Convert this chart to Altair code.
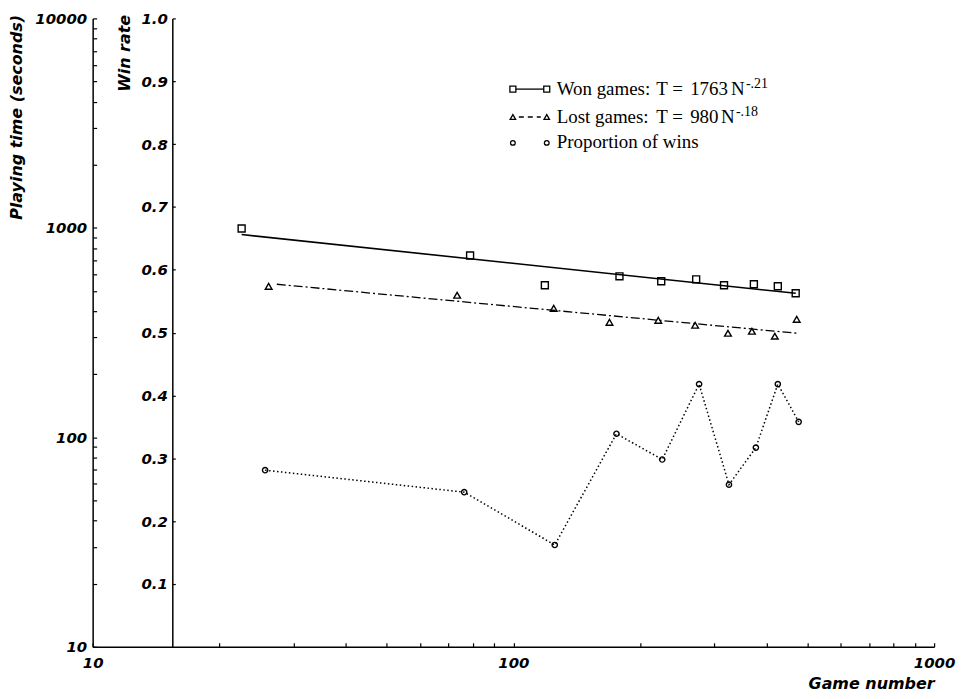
import altair as alt
import pandas as pd

# ---------------- data ----------------
# Won games: game number, playing time (s)
won_n = [22.6, 78.9, 118.8, 178.7, 224.6, 271.9, 316.7, 372.9, 425.1, 468.8]
won_t = [993, 738, 532, 587, 556, 568, 532, 538, 526, 487]
# fitted power law T = 1763 N^-.21 (end points)
won_fit_n = [22.6, 468.8]
won_fit_t = [929, 487]

# Lost games
lost_n = [26.2, 73.5, 124.7, 169.2, 221.0, 270.4, 323.6, 368.9, 418.2, 471.4]
lost_t = [526, 477, 413, 354, 362, 343, 314, 321, 304, 366]
# fitted power law T = 980 N^-.18
lost_fit_n = [27.4, 471.4]
lost_fit_t = [538, 314]

# Proportion of wins (win rate axis)
prop_n = [25.7, 76.4, 125.4, 175.8, 225.8, 276.3, 325.4, 377.0, 425.1, 476.5]
prop_w = [0.281, 0.246, 0.162, 0.339, 0.298, 0.418, 0.258, 0.317, 0.418, 0.358]

# axis ticks
x_ticks = [10, 20, 30, 40, 50, 60, 70, 80, 90,
           100, 200, 300, 400, 500, 600, 700, 800, 900, 1000]
x_labels = [10, 100, 1000]
time_ticks = [10, 20, 30, 40, 50, 60, 70, 80, 90,
              100, 200, 300, 400, 500, 600, 700, 800, 900,
              1000, 2000, 3000, 4000, 5000, 6000, 7000, 8000, 9000, 10000]
time_labels = [10, 100, 1000, 10000]
win_ticks = [0.1, 0.2, 0.3, 0.4, 0.5, 0.6, 0.7, 0.8, 0.9, 1.0]

# ---------------- layout ----------------
W, H = 845, 631
FONT = "DejaVu Sans"
SERIF = "Liberation Serif"

won_df = pd.DataFrame({"n": won_n, "t": won_t})
won_fit_df = pd.DataFrame({"n": won_fit_n, "t": won_fit_t})
lost_df = pd.DataFrame({"n": lost_n, "t": lost_t})
lost_fit_df = pd.DataFrame({"n": lost_fit_n, "t": lost_fit_t})
prop_df = pd.DataFrame({"n": prop_n, "w": prop_w})


def label_expr(vals):
    return "indexof([" + ",".join(str(v) for v in vals) + "], datum.value) >= 0 ? format(datum.value, 'd') : ''"


x_enc = alt.X(
    "n:Q",
    scale=alt.Scale(type="log", domain=[10, 1000], nice=False),
    axis=alt.Axis(
        orient="top", offset=-H, values=x_ticks, tickSize=4,
        labelPadding=-13, labelBaseline="top", labelAlign="center",
        labelExpr=label_expr(x_labels), labelFlush=False, labelOverlap=False,
        title="Game number", titleX=W, titleY=37, titleAlign="right",
        titleBaseline="middle", titleAngle=0, grid=False,
    ),
)

y_time = alt.Y(
    "t:Q",
    scale=alt.Scale(type="log", domain=[10, 10000], nice=False),
    axis=alt.Axis(
        orient="right", offset=-W, values=time_ticks, tickSize=4,
        labelPadding=-10, labelAlign="right", labelBaseline="middle",
        labelExpr=label_expr(time_labels), labelFlush=False, labelOverlap=False,
        title="Playing time (seconds)", titleAngle=270, titleX=-76, titleY=-4,
        titleAlign="right", titleBaseline="middle", grid=False,
    ),
)

y_win = alt.Y(
    "w:Q",
    scale=alt.Scale(domain=[0, 1], nice=False),
    axis=alt.Axis(
        orient="right", offset=-(W - 80), values=win_ticks, tickSize=3,
        labelPadding=-8, labelAlign="right", labelBaseline="middle",
        format=".1f", labelFlush=False, labelOverlap=False,
        title="Win rate", titleAngle=270, titleX=-48, titleY=-4,
        titleAlign="right", titleBaseline="middle", grid=False,
    ),
)

won_pts = alt.Chart(won_df).mark_point(
    shape="square", size=49, filled=False, color="black", strokeWidth=1.4, opacity=1
).encode(x=x_enc, y=y_time)
won_fit = alt.Chart(won_fit_df).mark_line(color="black", strokeWidth=1.6).encode(x=x_enc, y=y_time)
lost_pts = alt.Chart(lost_df).mark_point(
    shape="triangle-up", size=45, filled=False, color="black", strokeWidth=1.4, opacity=1
).encode(x=x_enc, y=y_time)
lost_fit = alt.Chart(lost_fit_df).mark_line(
    color="black", strokeWidth=1.3, strokeDash=[9, 3, 2, 3]
).encode(x=x_enc, y=y_time)

time_layer = alt.layer(won_fit, won_pts, lost_fit, lost_pts)

prop_line = alt.Chart(prop_df).mark_line(
    color="black", strokeWidth=1.5, strokeDash=[1.5, 2.5]
).encode(x=x_enc, y=y_win)
prop_pts = alt.Chart(prop_df).mark_point(
    shape="circle", size=28, filled=False, color="black", strokeWidth=1.4, opacity=1
).encode(x=x_enc, y=y_win)
prop_layer = alt.layer(prop_line, prop_pts)

# ---------------- legend (pixel layout) ----------------
one = pd.DataFrame({"a": [0]})


def sym(shape, x, y, size):
    return alt.Chart(one).mark_point(
        shape=shape, size=size, filled=False, color="black", strokeWidth=1.3, opacity=1
    ).encode(x=alt.value(x), y=alt.value(y))


def rule(x1, x2, y, dash=None):
    kw = {"color": "black", "strokeWidth": 1.3}
    if dash:
        kw["strokeDash"] = dash
    return alt.Chart(one).mark_rule(**kw).encode(x=alt.value(x1), x2=alt.value(x2), y=alt.value(y))


def txt(s, x, y, size=19):
    return alt.Chart(one).mark_text(
        align="left", baseline="alphabetic", font=SERIF, fontSize=size, color="black"
    ).encode(x=alt.value(x), y=alt.value(y), text=alt.value(s))


LX1, LX2, TX = 422, 456, 466
R1, R2, R3 = 71, 99, 125
B1, B2, B3 = 77, 105, 130

legend = [
    rule(LX1 + 3, LX2 - 3, R1), sym("square", LX1, R1, 36), sym("square", LX2, R1, 36),
    txt("Won games:", TX, B1), txt("T", 566, B1), txt("=", 582, B1),
    txt("1763", 600, B1), txt("N", 641, B1), txt("-.21", 656, B1 - 7, 14),
    rule(LX1 + 6, LX2 - 6, R2, [5, 4]), sym("triangle-up", LX1, R2, 30), sym("triangle-up", LX2, R2, 30),
    txt("Lost games:", TX, B2), txt("T", 566, B2), txt("=", 582, B2),
    txt("980", 600, B2), txt("N", 631, B2), txt("-.18", 646, B2 - 7, 14),
    sym("circle", LX1, R3, 22), sym("circle", LX2, R3, 22),
    txt("Proportion of wins", TX, B3),
]

chart = alt.layer(time_layer, prop_layer, *legend).resolve_scale(
    y="independent"
).properties(
    width=W, height=H, autosize="none",
    padding={"left": 85, "top": 9, "right": 30, "bottom": 50},
).configure_view(stroke=None).configure_axis(
    labelFont=FONT, labelFontSize=15, labelFontStyle="italic", labelFontWeight="bold",
    labelColor="black", titleFont=FONT, titleFontSize=16, titleFontStyle="italic",
    titleFontWeight="bold", titleColor="black", domainColor="black", domainWidth=1.5,
    tickColor="black", tickWidth=1.2,
)

chart.save("out.html", embed_options={"renderer": "svg", "actions": False})
